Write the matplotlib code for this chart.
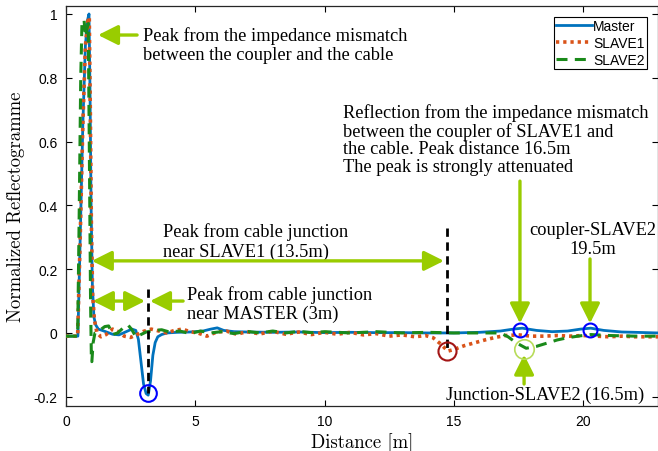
import matplotlib
matplotlib.use("Agg")
import matplotlib.pyplot as plt
from matplotlib.ticker import FixedLocator, FixedFormatter

# ---------------- data ----------------
master_x = [0, 0.46, 0.55, 0.65, 0.75, 0.83, 0.89, 0.93, 0.97, 1.02, 1.08, 1.15, 1.25, 1.4, 1.6,
            1.8, 2.05, 2.3, 2.55, 2.7, 2.8, 2.9, 3.0, 3.1, 3.18, 3.27, 3.36, 3.45, 3.55, 3.7, 3.9,
            4.3, 4.8, 5.3, 5.6, 5.85, 6.1, 6.5, 7, 8, 9, 10, 11, 12, 13, 14, 15, 16, 16.8,
            17.3, 17.65, 18.2, 18.8, 19.4, 19.9, 20.3, 20.8, 21.5, 22, 22.9]
master_y = [-0.01, -0.01, 0.3, 0.65, 0.9, 0.98, 1.0, 0.75, 0.4, 0.15, 0.05, 0.025, 0.012, 0.008, 0.002,
            -0.004, -0.006, 0.003, 0.012, 0.008, -0.02, -0.09, -0.16, -0.19, -0.195, -0.15, -0.07, -0.03, -0.012, -0.005, 0.0,
            0.002, 0.003, 0.006, 0.012, 0.016, 0.008, 0.004, 0.003, 0.002, 0.003, 0.001, 0.002, 0.001, 0.001, 0.0, 0.0, 0.002, 0.006,
            0.012, 0.015, 0.008, 0.004, 0.006, 0.012, 0.015, 0.008, 0.003, 0.002, 0.0]

slave1_x = [0, 0.45, 0.55, 0.65, 0.75, 0.85, 0.9, 0.94, 0.98, 1.03, 1.1, 1.2, 1.35, 1.55, 1.8, 2.0,
            2.25, 2.5, 2.75, 3.0, 3.3, 3.6, 3.9, 4.2, 4.5, 4.8, 5.1, 5.45, 5.8, 6.2, 6.6, 7.0,
            7.5, 8.0, 8.5, 9.0, 9.5, 10.0, 10.5, 11.0, 11.5, 12.0, 12.5, 13.0, 13.5, 13.9, 14.2,
            14.5, 14.77, 15.0, 15.4, 15.8, 16.2, 16.6, 17.0, 17.5, 18.0, 18.5, 19.0, 19.5, 20.0,
            20.5, 21.0, 21.5, 22.0, 22.9]
slave1_y = [-0.01, -0.01, 0.3, 0.65, 0.9, 0.98, 0.99, 0.7, 0.35, 0.12, 0.04, 0.0, -0.012, -0.005, 0.012, 0.005,
            -0.01, -0.014, -0.005, 0.005, 0.012, 0.006, 0.0, 0.008, 0.012, 0.004, 0.0, -0.01, 0.002, 0.006, -0.004, 0.004,
            -0.003, 0.005, -0.004, 0.003, -0.005, 0.002, -0.004, 0.002, -0.006, -0.002, -0.01, -0.006, -0.012, -0.008, -0.015,
            -0.035, -0.057, -0.052, -0.04, -0.031, -0.022, -0.014, -0.008, -0.006, -0.01, -0.01, -0.008, -0.01, -0.008,
            -0.01, -0.012, -0.01, -0.012, -0.012]

slave2_x = [0, 0.45, 0.5, 0.57, 0.62, 0.7, 0.75, 0.8, 0.86, 0.9, 0.95, 0.98, 1.0, 1.05, 1.12, 1.3,
            1.5, 1.65, 1.8, 2.0, 2.2, 2.4, 2.55, 2.7, 2.9, 3.1, 3.4, 3.7, 4.0, 4.4, 4.8, 5.2,
            5.6, 6.0, 6.5, 7, 7.5, 8, 8.5, 9, 9.5, 10, 11, 12, 13, 14, 15, 16, 16.8, 17.1,
            17.4, 17.8, 18.2, 18.6, 19.0, 19.4, 19.8, 20.3, 21, 22, 22.9]
slave2_y = [-0.01, -0.01, 0.3, 0.8, 0.98, 0.98, 0.93, 0.95, 0.97, 0.6, 0.1, -0.07, -0.09, -0.03, 0.0, 0.008,
            0.02, 0.022, -0.005, 0.0, 0.015, 0.025, 0.01, -0.012, -0.005, 0.003, 0.008, 0.01, 0.003, 0.006, -0.002, 0.006,
            0.0, 0.004, -0.002, 0.005, 0.0, 0.006, 0.0, 0.005, 0.001, 0.004, 0.0, 0.004, 0.0, 0.002, 0.0, 0.0, 0.0, -0.012,
            -0.03, -0.048, -0.042, -0.032, -0.022, -0.015, -0.01, -0.005, -0.008, -0.01, -0.01]

series_labels = ["Master", "SLAVE1", "SLAVE2"]
x_ticks = [0, 5, 10, 15, 20]
x_tick_labels = ["0", "5", "10", "15", "20"]
y_ticks = [-0.2, 0, 0.2, 0.4, 0.6, 0.8, 1.0]
y_tick_labels = ["-0.2", "0", "0.2", "0.4", "0.6", "0.8", "1"]

# ---------------- figure ----------------
W, H = 658, 452
fig = plt.figure(figsize=(W / 100, H / 100), dpi=100)
ax = fig.add_axes([66 / W, 1 - 407 / H, (658 - 66) / W, (407 - 7) / H])

ax.plot(master_x, master_y, color="#0072BD", lw=2.0, label=series_labels[0], zorder=3)
ax.plot(slave1_x, slave1_y, color="#D95319", lw=2.6, ls=(0, (0.9, 1.1)), label=series_labels[1], zorder=4)
ax.plot(slave2_x, slave2_y, color="#1A8A1A", lw=2.2, ls=(0, (3.6, 2.4)), label=series_labels[2], zorder=5)

ax.set_xlim(0, 22.9)
ax.set_ylim(-0.229, 1.025)

ax.xaxis.set_major_locator(FixedLocator(x_ticks))
ax.xaxis.set_major_formatter(FixedFormatter(x_tick_labels))
ax.yaxis.set_major_locator(FixedLocator(y_ticks))
ax.yaxis.set_major_formatter(FixedFormatter(y_tick_labels))
ax.tick_params(direction="in", top=True, right=True, length=4, width=0.8,
               labelsize=10, pad=6)
for lab in ax.get_xticklabels() + ax.get_yticklabels():
    lab.set_fontfamily("Liberation Sans")
for s in ax.spines.values():
    s.set_linewidth(0.9)
    s.set_color("#262626")

ax.set_xlabel("Distance [m]", fontfamily="cmr10", fontsize=13.5, labelpad=3)
ax.set_ylabel("Normalized Reflectogramme", fontfamily="cmr10", fontsize=13.5, labelpad=6)

leg = ax.legend(loc="upper right", bbox_to_anchor=(647 / W, 1 - 18 / H), bbox_transform=fig.transFigure,
                prop={"family": "Liberation Sans", "size": 10}, frameon=True, fancybox=False,
                handlelength=2.6, handletextpad=0.1, borderpad=0.15, labelspacing=0.22,
                borderaxespad=0)
leg.get_frame().set_edgecolor("black")
leg.get_frame().set_linewidth(0.8)
leg.get_frame().set_alpha(1)

# ---------------- annotations ----------------
G = "#99CC00"
tf = dict(fontfamily="Liberation Serif", fontsize=13.2, color="black")


def arrow(x0, y0, x1, y1, style="-|>"):
    ax.annotate("", xy=(x1, y1), xytext=(x0, y0),
                arrowprops=dict(arrowstyle=style + ",head_length=0.6,head_width=0.3",
                                color=G, lw=2.4, shrinkA=0, shrinkB=0, mutation_scale=20),
                zorder=6)


# peak coupler/cable
arrow(2.75, 0.934, 1.24, 0.934)
ax.text(2.98, 0.903, "Peak from the impedance mismatch\nbetween the coupler and the cable",
        va="center", ha="left", linespacing=1.15, **tf)

# junction near SLAVE1
arrow(1.0, 0.226, 14.62, 0.226, style="<|-|>")
ax.text(3.75, 0.288, "Peak from cable junction\nnear SLAVE1 (13.5m)", va="center", ha="left",
        linespacing=1.15, **tf)
ax.plot([14.74, 14.74], [0.33, -0.058], color="black", lw=2.0, ls=(0, (3, 2)), zorder=6)

# junction near MASTER
arrow(1.04, 0.1, 3.06, 0.1, style="<|-|>")
arrow(4.53, 0.1, 3.25, 0.1)
ax.text(4.68, 0.092, "Peak from cable junction\nnear MASTER (3m)", va="center", ha="left",
        linespacing=1.1, **tf)
ax.plot([3.17, 3.17], [0.138, -0.188], color="black", lw=2.0, ls=(0, (3, 2)), zorder=6)

# reflection SLAVE1 coupler
ax.text(10.72, 0.608, "Reflection from the impedance mismatch\nbetween the coupler of SLAVE1 and\n"
        "the cable. Peak distance 16.5m\nThe peak is strongly attenuated",
        va="center", ha="left", linespacing=1.05, **tf)
arrow(17.56, 0.476, 17.56, 0.03)

# coupler SLAVE2
ax.text(20.39, 0.295, "coupler-SLAVE2\n19.5m", va="center", ha="center", linespacing=1.1, **tf)
arrow(20.27, 0.232, 20.27, 0.03)

# junction SLAVE2
arrow(17.72, -0.16, 17.72, -0.068)
ax.text(14.7, -0.191, "Junction-SLAVE2 (16.5m)", va="center", ha="left", **tf)

# circles
ax.plot([3.17], [-0.188], "o", ms=12, mfc="none", mec="#0000FF", mew=1.5, zorder=7)
ax.plot([17.56, 20.27], [0.008, 0.008], "o", ms=10, mfc="none", mec="#0000FF", mew=1.5, zorder=7)
ax.plot([14.74], [-0.058], "o", ms=13, mfc="none", mec="#A31515", mew=1.5, zorder=7)
ax.plot([17.72], [-0.05], "o", ms=14, mfc="none", mec="#B8DC5A", mew=1.2, zorder=7)

fig.savefig("out.png", dpi=100)
